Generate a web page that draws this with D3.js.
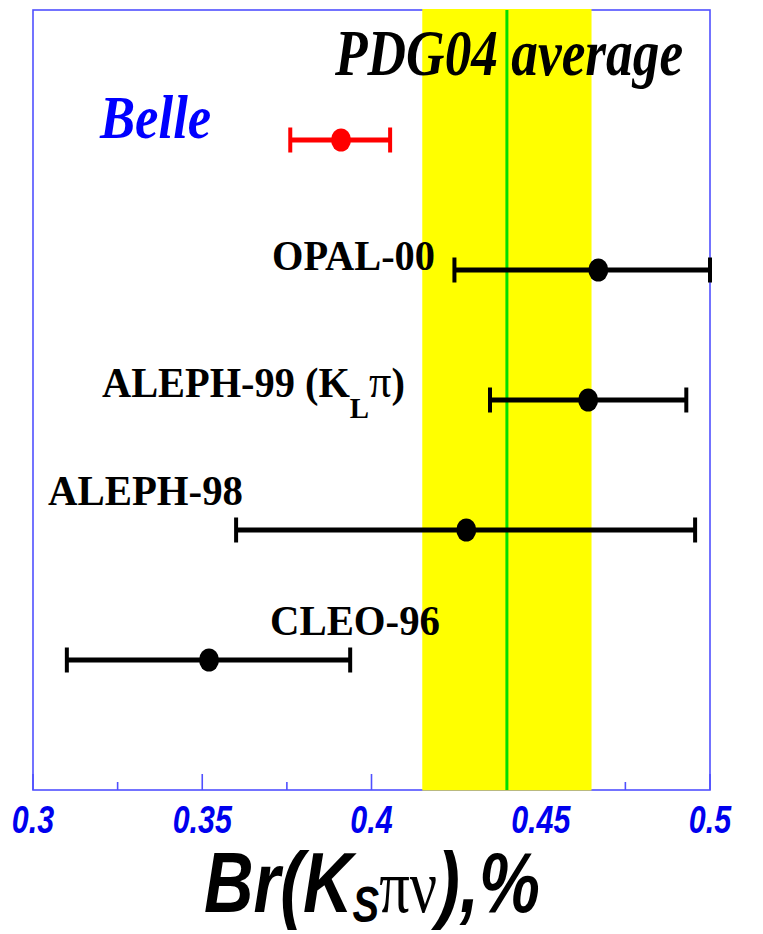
<!DOCTYPE html>
<html>
<head>
<meta charset="utf-8">
<script src="https://cdn.jsdelivr.net/npm/d3@7"></script>
<style>
  html, body { margin: 0; padding: 0; background: #ffffff; }
  svg { display: block; }
</style>
</head>
<body>
<svg id="chart" width="763" height="934"></svg>
<script>
// ---- data ----
const categories = ["Belle", "OPAL-00", "ALEPH-99 (KLπ)", "ALEPH-98", "CLEO-96"];
const values     = [0.391, 0.467, 0.464, 0.428, 0.352];
const errLow     = [0.015, 0.0425, 0.029, 0.068, 0.042];
const errHigh    = [0.0145, 0.033, 0.029, 0.0676, 0.0417];
const pdgAverage = 0.440;
const pdgError   = 0.025;
const majorTicks = [0.3, 0.35, 0.4, 0.45, 0.5];
const tickLabels = ["0.3", "0.35", "0.4", "0.45", "0.5"];
const minorTicks = [0.325, 0.375, 0.425, 0.475];

(function () {
// ---- layout ----
const pLeft = 33, pRight = 710, pTop = 10, pBottom = 790;
const svg = d3.select("#chart");
const x = d3.scaleLinear().domain([0.3, 0.5]).range([pLeft, pRight]);
const y = d3.scaleLinear().domain([0, 6]).range([pTop, pBottom]);
const rowY = i => y(i + 1);

const BLUE_FRAME = "#5050ff";
const SERIF = "'Liberation Serif', 'Times New Roman', serif";
const SANS = "'Liberation Sans', Arial, sans-serif";

function fitText(g, targetW) {
  const t = g.select("text");
  const w = t.node().getBBox().width || targetW;
  const s = targetW / w;
  const cur = g.attr("data-pos").split(",").map(Number);
  g.attr("transform", `translate(${cur[0]},${cur[1]}) scale(${s},1)`);
}
function placeText(px, py, anchor) {
  const g = svg.append("g").attr("data-pos", px + "," + py)
    .attr("transform", `translate(${px},${py})`);
  const t = g.append("text").attr("x", 0).attr("y", 0).attr("text-anchor", anchor || "start");
  return { g, t };
}

// frame
svg.append("rect").attr("x", pLeft).attr("y", pTop)
  .attr("width", pRight - pLeft).attr("height", pBottom - pTop)
  .attr("fill", "#ffffff").attr("stroke", BLUE_FRAME).attr("stroke-width", 1.6);

// ticks
svg.append("g").selectAll("line").data(majorTicks).join("line")
  .attr("x1", d => x(d)).attr("x2", d => x(d))
  .attr("y1", pBottom).attr("y2", pBottom - 16)
  .attr("stroke", BLUE_FRAME).attr("stroke-width", 1.6);
svg.append("g").selectAll("line").data(minorTicks).join("line")
  .attr("x1", d => x(d)).attr("x2", d => x(d))
  .attr("y1", pBottom).attr("y2", pBottom - 8)
  .attr("stroke", BLUE_FRAME).attr("stroke-width", 1.6);

// PDG band
svg.append("rect")
  .attr("x", x(pdgAverage - pdgError)).attr("y", pTop - 1)
  .attr("width", x(pdgAverage + pdgError) - x(pdgAverage - pdgError))
  .attr("height", pBottom - pTop + 1.5)
  .attr("fill", "#ffff00");
svg.append("line")
  .attr("x1", x(pdgAverage)).attr("x2", x(pdgAverage))
  .attr("y1", pTop).attr("y2", pBottom)
  .attr("stroke", "#00e000").attr("stroke-width", 3);

// PDG04 average text
{
  const { g, t } = placeText(335, 75);
  t.text("PDG04 average").attr("font-family", SERIF).attr("font-style", "italic")
    .attr("font-weight", "bold").attr("font-size", 66).attr("fill", "#000");
  fitText(g, 349);
}

// Belle label
{
  const { g, t } = placeText(100, 138);
  t.text(categories[0]).attr("font-family", SERIF).attr("font-style", "italic")
    .attr("font-weight", "bold").attr("font-size", 62).attr("fill", "#0000ff");
  fitText(g, 112);
}

// experiment labels (layout: x start in px, baseline, width)
const labelLayout = [
  null,
  { x: 272, yb: 270, w: 163 },
  { x: 102, yb: 397, w: 303 },
  { x: 48,  yb: 505, w: 195 },
  { x: 270, yb: 635, w: 170 }
];
labelLayout.forEach((L, i) => {
  if (!L) return;
  const { g, t } = placeText(L.x, L.yb);
  t.attr("font-family", SERIF).attr("font-weight", "bold").attr("font-size", 42).attr("fill", "#000");
  if (i === 2) {
    t.append("tspan").text("ALEPH-99 (K");
    t.append("tspan").text("L").attr("font-size", 30).attr("dy", 21);
    t.append("tspan").text("π").attr("font-weight", "normal").attr("font-size", 46).attr("dy", -21);
    t.append("tspan").text(")");
  } else {
    t.text(categories[i]);
  }
  fitText(g, L.w);
});

// error bars
const bars = svg.append("g");
categories.forEach((c, i) => {
  const col = i === 0 ? "#ff0000" : "#000000";
  const yy = rowY(i);
  const lo = x(values[i] - errLow[i]), hi = x(values[i] + errHigh[i]);
  bars.append("line").attr("x1", lo).attr("x2", hi).attr("y1", yy).attr("y2", yy)
    .attr("stroke", col).attr("stroke-width", 5);
  [lo, hi].forEach(px => {
    bars.append("line").attr("x1", px).attr("x2", px).attr("y1", yy - 12.5).attr("y2", yy + 12.5)
      .attr("stroke", col).attr("stroke-width", 4);
  });
  bars.append("ellipse").attr("cx", x(values[i])).attr("cy", yy)
    .attr("rx", 10).attr("ry", 11.5).attr("fill", col);
});

// tick labels
majorTicks.forEach((v, i) => {
  const g = svg.append("g").attr("transform", `translate(${x(v)},833) scale(0.8,1)`);
  g.append("text").attr("text-anchor", "middle").text(tickLabels[i])
    .attr("font-family", SANS).attr("font-style", "italic").attr("font-weight", "bold")
    .attr("font-size", 38).attr("fill", "#0000ee");
});

// axis title
{
  const g = svg.append("g").attr("data-pos", "204,912").attr("transform", "translate(204,912)");
  const t = g.append("text").attr("x", 0).attr("y", 0)
    .attr("font-family", SANS).attr("font-style", "italic").attr("font-weight", "bold")
    .attr("font-size", 86).attr("fill", "#000");
  t.append("tspan").text("Br(K");
  t.append("tspan").text("S").attr("font-size", 50).attr("dy", 10);
  t.append("tspan").text("πν").attr("font-family", SERIF).attr("font-style", "normal")
    .attr("font-weight", "normal").attr("font-size", 76).attr("dy", -10);
  t.append("tspan").text("),%");
  fitText(g, 336);
}
})();
</script>
</body>
</html>
